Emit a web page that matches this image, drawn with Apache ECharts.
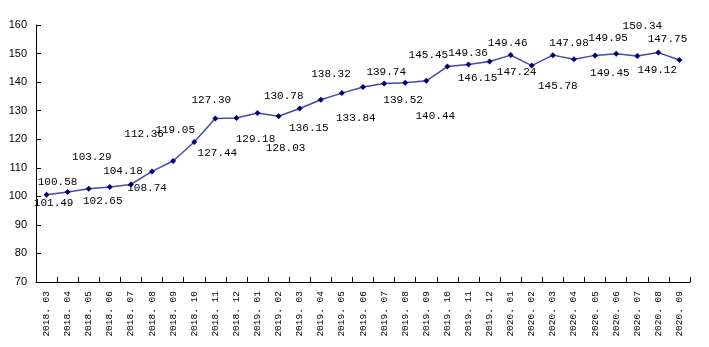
<!DOCTYPE html>
<html>
<head>
<meta charset="utf-8">
<script src="https://cdn.jsdelivr.net/npm/echarts@6/dist/echarts.min.js"></script>
<style>
html,body{margin:0;padding:0;background:#fff;}
#chart{width:709px;height:347px;}
</style>
</head>
<body>
<div id="chart"></div>
<script>
// Data
var categories = ['2018. 03','2018. 04','2018. 05','2018. 06','2018. 07','2018. 08','2018. 09','2018. 10','2018. 11','2018. 12',
  '2019. 01','2019. 02','2019. 03','2019. 04','2019. 05','2019. 06','2019. 07','2019. 08','2019. 09','2019. 10','2019. 11','2019. 12',
  '2020. 01','2020. 02','2020. 03','2020. 04','2020. 05','2020. 06','2020. 07','2020. 08','2020. 09'];
var values = [100.58,101.49,102.65,103.29,104.18,108.74,112.36,119.05,127.30,127.44,
  129.18,128.03,130.78,133.84,136.15,138.32,139.52,139.74,140.44,145.45,146.15,147.24,
  149.46,145.78,149.45,147.98,149.36,149.95,149.12,150.34,147.75];
var yTicks = [70,80,90,100,110,120,130,140,150,160];

// Label placement (annotation offsets from each point, as in the reference)
var labelOffsets = [[11,-13],[-14,11],[14,12],[-18,-30],[-8,-13],[-5,17],[-29,-27],[-19,-12],[-4,-18],[-19,35],
  [-2,26],[7,32],[-16,-12],[35,18],[-33,35],[-32,-13],[19,17],[-19,-11],[9,35],[-19,-11],[9,14],[27,11],
  [-3,-12],[26,20],[57,18],[-5,-16],[-127,-2],[-8,-16],[20,14],[-16,-26],[-12,-21]];

var chart = echarts.init(document.getElementById('chart'), null, {renderer:'canvas'});
chart.setOption({
  animation: false,
  backgroundColor: '#ffffff',
  grid: { left: 36, right: 19, top: 25, bottom: 65, containLabel: false },
  xAxis: {
    type: 'category',
    data: categories,
    boundaryGap: true,
    axisLine: { show: true, lineStyle: { color: '#000', width: 1 } },
    axisTick: { show: true, inside: true, length: 5, alignWithLabel: false, lineStyle: { color: '#000' } },
    axisLabel: {
      rotate: 90, interval: 0, margin: 9, color: '#000',
      fontFamily: 'Liberation Mono', fontSize: 9.5
    },
    splitLine: { show: false }
  },
  yAxis: {
    type: 'value',
    min: yTicks[0], max: yTicks[yTicks.length-1], interval: 10,
    axisLine: { show: true, lineStyle: { color: '#000', width: 1 } },
    axisTick: { show: true, inside: true, length: 5, lineStyle: { color: '#000' } },
    axisLabel: { margin: 9, color: '#000', fontFamily: 'Liberation Sans', fontSize: 11 },
    splitLine: { show: false }
  },
  series: [{
    type: 'line',
    data: values,
    symbol: 'diamond',
    symbolSize: 6,
    lineStyle: { color: '#4848a8', width: 1.5 },
    itemStyle: { color: '#00007a' },
    label: {
      show: true,
      position: 'inside',
      align: 'center',
      verticalAlign: 'middle',
      color: '#000',
      fontFamily: 'Liberation Mono',
      fontSize: 11,
      formatter: function(p){ return p.value.toFixed(2); }
    },
    labelLayout: function(params){
      var o = labelOffsets[params.dataIndex] || [0,0];
      return { dx: o[0], dy: o[1], hideOverlap: false };
    }
  }]
});
</script>
</body>
</html>
